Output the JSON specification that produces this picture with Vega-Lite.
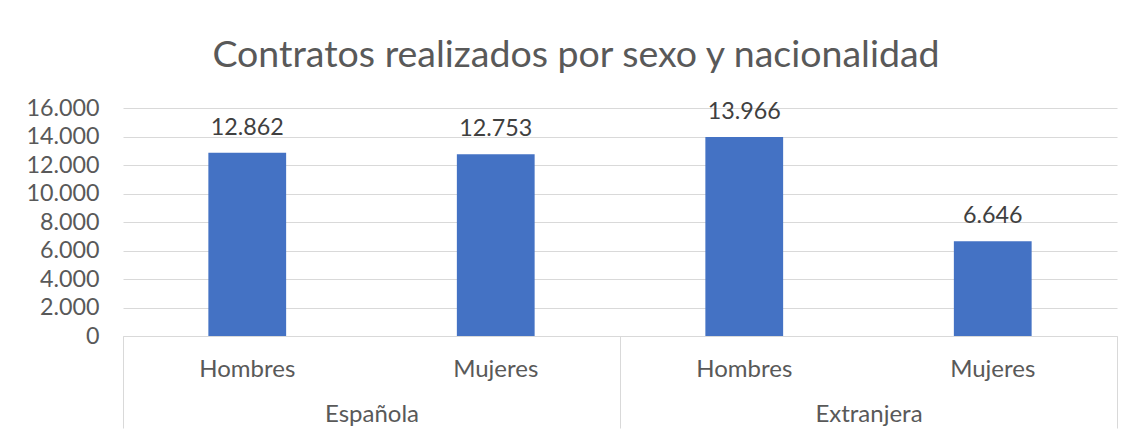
{
  "$schema": "https://vega.github.io/schema/vega-lite/v6.json",
  "autosize": {"type": "none"},
  "width": 994,
  "height": 228,
  "padding": {"left": 123, "top": 108, "right": 19, "bottom": 98},
  "background": "white",
  "config": {
    "locale": {"number": {"decimal": ",", "thousands": ".", "grouping": [3], "currency": ["", " €"]}},
    "font": "Lato",
    "view": {"stroke": null},
    "axis": {"labelFont": "Lato", "labelColor": "#595959", "labelFontSize": 24},
    "axisY": {"labelOverlap": false, "labelSeparation": 0, "labelBound": false}
  },
  "title": {
    "text": "Contratos realizados por sexo y nacionalidad",
    "font": "Lato",
    "fontSize": 37.5,
    "fontWeight": "normal",
    "color": "#595959",
    "anchor": "middle",
    "frame": "group",
    "dx": -44,
    "dy": 37,
    "baseline": "alphabetic",
    "offset": 29
  },
  "data": {
    "values": [
      {"id": "Española|Hombres", "nac": "Española", "sexo": "Hombres", "v": 12862},
      {"id": "Española|Mujeres", "nac": "Española", "sexo": "Mujeres", "v": 12753},
      {"id": "Extranjera|Hombres", "nac": "Extranjera", "sexo": "Hombres", "v": 13966},
      {"id": "Extranjera|Mujeres", "nac": "Extranjera", "sexo": "Mujeres", "v": 6646}
    ]
  },
  "resolve": {"scale": {"x": "independent"}, "axis": {"x": "independent"}},
  "layer": [
    {
      "encoding": {
        "x": {
          "field": "id", "type": "nominal", "sort": null,
          "scale": {"paddingInner": 0.687, "paddingOuter": 0.3435},
          "axis": {
            "title": null, "orient": "bottom", "labelAngle": 0,
            "labelExpr": "split(datum.label, '|')[1]",
            "ticks": false, "tickSize": 0, "labelPadding": 40,
            "labelBaseline": "alphabetic",
            "domainColor": "#d9d9d9", "domainWidth": 1, "grid": false
          }
        },
        "y": {
          "field": "v", "type": "quantitative",
          "scale": {"domain": [0, 16000], "nice": false},
          "axis": {
            "title": null, "values": [0, 2000, 4000, 6000, 8000, 10000, 12000, 14000, 16000],
            "format": ",d", "domain": false, "ticks": false, "labelPadding": 24,
            "labelFontSize": 23.3, "labelOverlap": false,
            "gridColor": "#d9d9d9", "gridWidth": 1
          }
        }
      },
      "layer": [
        {
          "mark": {"type": "bar", "color": "#4472C4"}
        },
        {
          "mark": {"type": "text", "color": "#404040", "font": "Lato", "fontSize": 23.3, "baseline": "alphabetic", "dy": -18},
          "encoding": {
            "text": {"field": "v", "type": "quantitative", "format": ",d"}
          }
        }
      ]
    },
    {
      "mark": {"type": "tick", "opacity": 0},
      "encoding": {
        "x": {
          "field": "nac", "type": "nominal", "sort": null,
          "scale": {"paddingInner": 0, "paddingOuter": 0},
          "axis": {
            "title": null, "orient": "bottom", "labelAngle": 0,
            "ticks": true, "tickBand": "extent", "tickSize": 92,
            "tickColor": "#d9d9d9", "tickWidth": 1,
            "labelPadding": -7, "labelBaseline": "alphabetic",
            "domain": false, "grid": false
          }
        }
      }
    }
  ]
}
